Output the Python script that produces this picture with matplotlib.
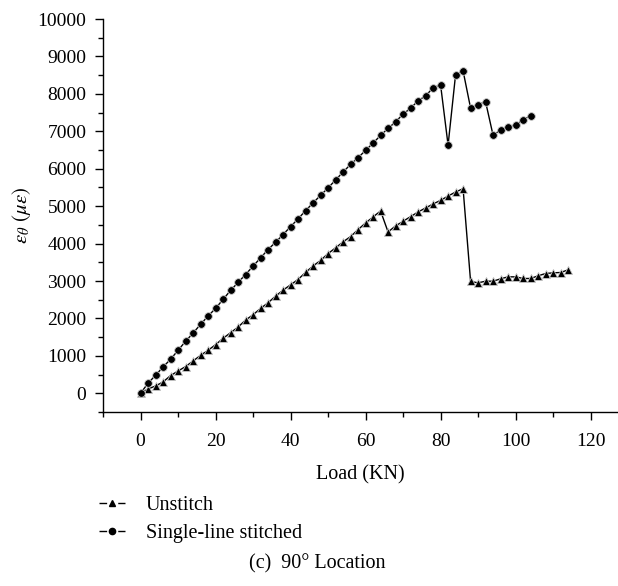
import numpy as np
import matplotlib
matplotlib.use('Agg')
import matplotlib.pyplot as plt
from matplotlib.ticker import MultipleLocator
from matplotlib.lines import Line2D
from matplotlib.legend_handler import HandlerTuple

plt.rcParams['font.family'] = ['Liberation Serif', 'DejaVu Serif']
plt.rcParams['mathtext.fontset'] = 'stix'

# load (KN) and hoop strain (micro-strain)
load_unstitch = list(range(0, 116, 2))
strain_unstitch = [0, 115, 195, 302, 472, 595, 712, 862, 1013, 1147,
                   1298, 1467, 1618, 1768, 1955, 2098, 2267, 2418, 2595, 2755,
                   2898, 3040, 3230, 3400, 3550, 3733, 3885, 4045, 4187, 4373,
                   4551, 4711, 4871, 4311, 4471, 4595, 4720, 4844, 4951, 5058,
                   5155, 5270, 5377, 5466, 2987, 2951, 2995, 2995, 3058, 3111,
                   3111, 3067, 3067, 3138, 3200, 3218, 3227, 3298]

load_single = list(range(0, 106, 2))
strain_single = [0, 267, 480, 702, 907, 1147, 1387, 1608, 1840, 2062,
                 2267, 2507, 2747, 2960, 3173, 3395, 3618, 3840, 4035, 4240,
                 4453, 4658, 4880, 5085, 5290, 5485, 5700, 5910, 6115, 6293,
                 6490, 6684, 6890, 7075, 7253, 7458, 7618, 7813, 7947, 8160,
                 8240, 6630, 8515, 8613, 7618, 7715, 7787, 6890, 7040, 7120,
                 7165, 7307, 7420]

fig = plt.figure(figsize=(6.18, 5.86), dpi=100)
ax = fig.add_axes([103 / 618, 1 - 412 / 586, (618 - 103) / 618, (412 - 19) / 586])

ax.plot(load_unstitch, strain_unstitch, color='black', lw=1.0, marker='^',
        markersize=6.0, markeredgecolor='#c8c8c8', markeredgewidth=0.6)
ax.plot(load_single, strain_single, color='black', lw=1.0, marker='o',
        markersize=5.5, markeredgecolor='#c8c8c8', markeredgewidth=0.6)

ax.set_xlim(-10, 127.3)
ax.set_ylim(-500, 10000)
ax.xaxis.set_major_locator(MultipleLocator(20))
ax.xaxis.set_minor_locator(MultipleLocator(10))
ax.yaxis.set_major_locator(MultipleLocator(1000))
ax.yaxis.set_minor_locator(MultipleLocator(500))

for s in ['top', 'right']:
    ax.spines[s].set_visible(False)
for s in ['left', 'bottom']:
    ax.spines[s].set_linewidth(1.0)

ax.tick_params(which='major', direction='out', length=6, width=1.0,
               labelsize=14, pad=6)
ax.tick_params(which='minor', direction='out', length=3.5, width=1.0)
ax.tick_params(axis='x', which='major', pad=9)

ax.set_xlabel('Load (KN)', fontsize=14.5, labelpad=11)
ax.set_ylabel(r'$\varepsilon_\theta\ (\mu\varepsilon)$', fontsize=15, labelpad=3)

# legend handles: dash - marker - dash
dash = Line2D([], [], color='black', lw=1.0, dashes=(5.5, 8.0))
m1 = Line2D([], [], ls='none', marker='^', markersize=5, color='black')
m2 = Line2D([], [], ls='none', marker='o', markersize=4.5, color='black')
fig.legend([(dash, m1), (dash, m2)], ['Unstitch', 'Single-line stitched'],
           handler_map={tuple: HandlerTuple(ndivide=1)},
           loc='upper left', bbox_to_anchor=(99 / 618, 1 - 496 / 586),
           frameon=False, fontsize=14.5, handlelength=1.31, handletextpad=1.0,
           labelspacing=0.45, borderaxespad=0, borderpad=0)

fig.text(0.513, 1 - 564 / 586, '(c)  90° Location', ha='center', va='center',
         fontsize=14.5)

fig.savefig('out.png', dpi=100)
